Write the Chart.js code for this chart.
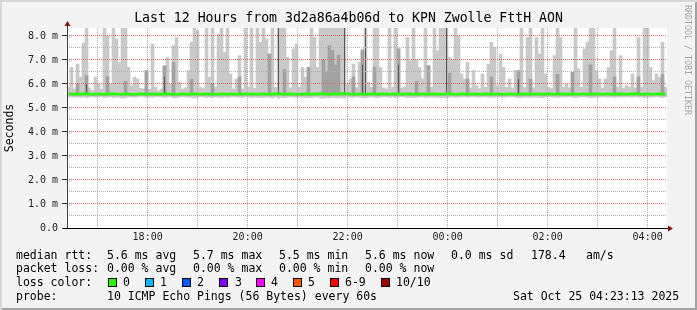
<!DOCTYPE html>
<html lang="en">
<head>
<meta charset="UTF-8">
<title>Last 12 Hours from 3d2a86a4b06d to KPN Zwolle FttH AON</title>
<script src="https://cdn.jsdelivr.net/npm/chart.js"></script>
<style>
  html, body { margin: 0; padding: 0; background: #f3f3f3; }
  #graph { position: relative; width: 697px; height: 310px; overflow: hidden; background: #f3f3f3;
    box-shadow: inset 2px 2px 0 #d8d8d8, inset -2px -2px 0 #a2a2a2;
    font-family: 'DejaVu Sans Mono', monospace; color: #000; }
  #graph canvas { position: absolute; left: 0; top: 0; }
  .title { position: absolute; left: 0; top: 10px; width: 697px; text-align: center; font-size: 13.2px; line-height: 16px; white-space: pre; }
  .brand { position: absolute; left: 683px; top: 5px; writing-mode: vertical-rl; font-size: 8.3px; line-height: 9px; color: #a8a8a8; white-space: pre; }
  .txt { position: absolute; font-size: 11.5px; line-height: 14px; white-space: pre; }
  .sq { position: absolute; top: 278px; width: 9px; height: 9px; box-sizing: border-box; border: 1px solid #000; }
</style>
</head>
<body>
<div id="graph">
  <canvas id="smoke" width="697" height="310"></canvas>
  <div class="title">Last 12 Hours from 3d2a86a4b06d to KPN Zwolle FttH AON</div>
  <div class="brand">RRDTOOL / TOBI OETIKER</div>

  <!-- legend -->
  <div class="txt" style="left:16px;top:248px">median rtt:</div>
  <div class="txt" style="left:107px;top:248px">5.6 ms avg</div>
  <div class="txt" style="left:193px;top:248px">5.7 ms max</div>
  <div class="txt" style="left:279px;top:248px">5.5 ms min</div>
  <div class="txt" style="left:365px;top:248px">5.6 ms now</div>
  <div class="txt" style="left:451px;top:248px">0.0 ms sd</div>
  <div class="txt" style="left:531px;top:248px">178.4</div>
  <div class="txt" style="left:586px;top:248px">am/s</div>

  <div class="txt" style="left:16px;top:261px">packet loss:</div>
  <div class="txt" style="left:107px;top:261px">0.00 % avg</div>
  <div class="txt" style="left:193px;top:261px">0.00 % max</div>
  <div class="txt" style="left:279px;top:261px">0.00 % min</div>
  <div class="txt" style="left:365px;top:261px">0.00 % now</div>

  <div class="txt" style="left:16px;top:275px">loss color:</div>
  <div class="sq" style="left:108px;background:#26ff00"></div><div class="txt" style="left:123px;top:275px">0</div>
  <div class="sq" style="left:145px;background:#00b8ff"></div><div class="txt" style="left:160px;top:275px">1</div>
  <div class="sq" style="left:182px;background:#0059ff"></div><div class="txt" style="left:197px;top:275px">2</div>
  <div class="sq" style="left:219px;background:#7e00ff"></div><div class="txt" style="left:235px;top:275px">3</div>
  <div class="sq" style="left:256px;background:#ff00ff"></div><div class="txt" style="left:271px;top:275px">4</div>
  <div class="sq" style="left:293px;background:#ff5500"></div><div class="txt" style="left:308px;top:275px">5</div>
  <div class="sq" style="left:330px;background:#ff0000"></div><div class="txt" style="left:345px;top:275px">6-9</div>
  <div class="sq" style="left:381px;background:#a10000"></div><div class="txt" style="left:396px;top:275px">10/10</div>

  <div class="txt" style="left:16px;top:289px">probe:</div>
  <div class="txt" style="left:107px;top:289px">10 ICMP Echo Pings (56 Bytes) every 60s</div>
  <div class="txt" style="left:513px;top:289px">Sat Oct 25 04:23:13 2025</div>
</div>

<script>
  // time window in hours: 16:23:13 -> 04:23:13 next day
  const tStart = 16 + 23 / 60 + 13 / 3600;
  const tEnd = tStart + 12;
  const yTop = 8.333; // upper limit in ms

  // smoke top (slowest ping) per 3.6 min slot, ms
  const smokeHigh = [
    5.86, 6.69, 5.79, 6.83, 6.28, 7.71, 8.40, 5.84, 5.72, 6.28,
    6.00, 5.79, 8.40, 8.01, 6.00, 8.40, 7.88, 6.90, 8.40, 8.40,
    6.69, 5.93, 6.28, 6.21, 5.82, 5.79, 6.56, 5.78, 7.67, 5.86,
    5.72, 5.79, 6.76, 7.11, 6.00, 7.60, 7.94, 6.07, 5.79, 5.84,
    6.56, 7.74, 8.40, 8.22, 5.86, 5.81, 8.40, 6.28, 8.40, 5.86,
    8.08, 8.40, 7.32, 8.40, 6.42, 5.79, 6.21, 7.18, 5.79, 8.40,
    5.86, 8.40, 5.83, 8.40, 7.74, 8.40, 7.88, 7.25, 8.40, 5.86,
    8.40, 8.40, 8.40, 7.11, 5.84, 7.46, 7.67, 5.86, 6.69, 6.28,
    6.69, 8.40, 7.94, 6.69, 8.40, 8.40, 8.40, 8.40, 8.40, 8.40,
    8.40, 8.40, 8.40, 6.00, 6.21, 6.83, 5.86, 6.90, 7.46, 8.40,
    6.07, 5.86, 8.40, 8.40, 6.69, 5.84, 5.79, 8.40, 5.86, 8.40,
    7.46, 5.82, 5.86, 7.94, 6.97, 8.40, 7.04, 6.69, 6.21, 8.40,
    6.76, 5.86, 8.40, 7.39, 8.40, 8.40, 8.40, 7.11, 7.04, 8.40,
    8.01, 6.42, 6.21, 6.90, 5.84, 6.56, 5.93, 5.81, 6.42, 5.86,
    6.83, 7.74, 7.53, 5.93, 7.25, 6.69, 5.86, 6.21, 5.83, 6.56,
    6.56, 8.40, 5.86, 7.94, 8.40, 5.84, 7.94, 7.25, 8.40, 6.42,
    5.86, 5.81, 7.18, 8.40, 7.94, 5.86, 6.00, 5.84, 6.49, 8.40,
    6.63, 5.86, 7.46, 7.74, 8.40, 8.40, 6.56, 6.21, 5.83, 6.21,
    6.69, 7.39, 8.40, 5.86, 7.18, 5.82, 5.93, 5.86, 6.42, 5.84,
    7.94, 5.86, 8.40, 8.40, 6.69, 6.14, 6.42, 6.28, 7.74, 5.86
  ];

  // smoke bottom (fastest ping), ms
  const smokeLow = [
    5.46, 5.47, 5.45, 5.46, 5.44, 5.47, 5.43, 5.46, 5.48, 5.45, 5.46, 5.47, 5.44, 5.45, 5.47, 5.43, 5.46, 5.45, 5.42, 5.44,
    5.46, 5.47, 5.45, 5.46, 5.48, 5.47, 5.44, 5.46, 5.45, 5.47, 5.48, 5.46, 5.44, 5.45, 5.47, 5.43, 5.44, 5.46, 5.47, 5.46,
    5.45, 5.44, 5.42, 5.45, 5.47, 5.46, 5.44, 5.46, 5.43, 5.47, 5.45, 5.43, 5.46, 5.44, 5.46, 5.47, 5.46, 5.45, 5.44, 5.47,
    5.46, 5.43, 5.46, 5.44, 5.45, 5.43, 5.46, 5.44, 5.42, 5.46, 5.41, 5.44, 5.43, 5.45, 5.47, 5.45, 5.44, 5.46, 5.45, 5.44,
    5.43, 5.44, 5.45, 5.46, 5.42, 5.41, 5.43, 5.42, 5.44, 5.43, 5.42, 5.44, 5.41, 5.46, 5.45, 5.44, 5.47, 5.45, 5.43, 5.42,
    5.45, 5.47, 5.44, 5.43, 5.45, 5.46, 5.47, 5.44, 5.46, 5.43, 5.45, 5.47, 5.46, 5.44, 5.45, 5.43, 5.45, 5.46, 5.47, 5.44,
    5.45, 5.46, 5.44, 5.45, 5.43, 5.44, 5.42, 5.45, 5.46, 5.44, 5.45, 5.46, 5.47, 5.45, 5.46, 5.47, 5.46, 5.45, 5.46, 5.47,
    5.45, 5.44, 5.45, 5.46, 5.45, 5.44, 5.47, 5.46, 5.47, 5.45, 5.44, 5.43, 5.46, 5.45, 5.44, 5.46, 5.45, 5.44, 5.43, 5.45,
    5.47, 5.46, 5.45, 5.44, 5.45, 5.47, 5.46, 5.47, 5.45, 5.44, 5.45, 5.47, 5.46, 5.45, 5.43, 5.44, 5.45, 5.46, 5.47, 5.46,
    5.45, 5.46, 5.44, 5.47, 5.45, 5.46, 5.47, 5.46, 5.45, 5.47, 5.45, 5.46, 5.43, 5.44, 5.45, 5.46, 5.47, 5.45, 5.44, 5.46
  ];

  // median rtt, ms
  const medianRtt = [
    5.57, 5.58, 5.57, 5.56, 5.57, 5.58, 5.59, 5.57, 5.56, 5.57, 5.58, 5.57, 5.56, 5.57, 5.58, 5.59, 5.57, 5.56, 5.57, 5.58,
    5.57, 5.56, 5.55, 5.57, 5.58, 5.57, 5.56, 5.57, 5.58, 5.57, 5.56, 5.57, 5.58, 5.59, 5.57, 5.56, 5.55, 5.57, 5.58, 5.57,
    5.56, 5.57, 5.58, 5.57, 5.56, 5.57, 5.58, 5.57, 5.56, 5.55, 5.57, 5.58, 5.57, 5.56, 5.57, 5.58, 5.57, 5.56, 5.57, 5.58,
    5.57, 5.58, 5.57, 5.56, 5.57, 5.58, 5.57, 5.56, 5.57, 5.58, 5.59, 5.57, 5.56, 5.57, 5.58, 5.57, 5.56, 5.55, 5.57, 5.58,
    5.57, 5.56, 5.57, 5.58, 5.59, 5.58, 5.57, 5.56, 5.57, 5.58, 5.57, 5.59, 5.60, 5.58, 5.57, 5.56, 5.57, 5.58, 5.57, 5.56,
    5.57, 5.58, 5.57, 5.56, 5.57, 5.58, 5.57, 5.56, 5.57, 5.58, 5.57, 5.56, 5.57, 5.58, 5.57, 5.56, 5.55, 5.57, 5.58, 5.57,
    5.56, 5.57, 5.58, 5.57, 5.56, 5.57, 5.58, 5.59, 5.57, 5.56, 5.57, 5.58, 5.57, 5.56, 5.57, 5.58, 5.57, 5.56, 5.57, 5.58,
    5.57, 5.56, 5.57, 5.58, 5.57, 5.56, 5.57, 5.58, 5.57, 5.56, 5.55, 5.57, 5.58, 5.57, 5.56, 5.57, 5.58, 5.57, 5.56, 5.57,
    5.58, 5.57, 5.56, 5.57, 5.58, 5.57, 5.56, 5.57, 5.58, 5.57, 5.56, 5.57, 5.58, 5.57, 5.56, 5.57, 5.58, 5.57, 5.56, 5.57,
    5.58, 5.57, 5.56, 5.57, 5.58, 5.57, 5.56, 5.57, 5.58, 5.59, 5.57, 5.56, 5.57, 5.58, 5.57, 5.56, 5.57, 5.58, 5.57, 5.57
  ];

  // inner smoke layers: [slot, top ms]
  const midSmoke = [
    [3, 6.00], [6, 6.35], [13, 6.30], [19, 6.10], [26, 6.56], [32, 6.76], [35, 6.90], [41, 6.20], [48, 6.00],
    [57, 6.30], [67, 7.25], [72, 6.60], [80, 6.69], [85, 7.00], [86, 6.50], [87, 7.60], [88, 7.40], [89, 6.80],
    [90, 7.20], [95, 6.30], [98, 7.39], [102, 6.70], [110, 7.46], [116, 6.10], [120, 6.76], [127, 6.45],
    [133, 6.20], [141, 6.30], [150, 6.56], [154, 6.20], [163, 6.40], [168, 6.49], [174, 6.80], [182, 6.30],
    [190, 6.30], [198, 6.40]
  ];
  const darkSmoke = [
    [6, 6.00], [32, 6.30], [70, 8.40], [92, 8.40], [98, 6.80], [99, 8.40], [110, 6.80], [126, 8.40], [150, 6.20]
  ];

  const slots = smokeHigh.map((_, i) => i);
  const outer = smokeHigh.map((h, i) => [smokeLow[i], h]);
  function sparse(list) {
    const arr = slots.map(() => null);
    list.forEach(([i, top]) => { arr[i] = [medianRtt[i], top]; });
    return arr;
  }

  const majorRed = 'rgb(255, 96, 96)';
  const minorGray = 'rgb(176, 176, 176)';
  // ticks every `step`, shifted by `phase`, inside the scale range
  const stepTicks = (step, phase) => s => {
    const t = [];
    for (let v = Math.ceil((s.min - phase) / step - 1e-9) * step + phase; v <= s.max + 1e-9; v += step) t.push({ value: v });
    s.ticks = t;
  };
  const mono = { family: "'DejaVu Sans Mono', monospace", size: 10 };
  // grid-only helper scale (no labels, no room taken)
  const gridOnly = (pos, extra) => Object.assign({
    position: pos,
    afterFit: s => { if (s.isHorizontal()) s.height = 0; else s.width = 0; },
    ticks: { display: false },
    grid: { z: 1, drawTicks: false, lineWidth: 1, color: minorGray },
    border: { display: false, dash: [1, 1] }
  }, extra);

  // white plot area + rrdtool style axis arrows
  const rrdFrame = {
    id: 'rrdFrame',
    beforeDraw(chart) {
      const { ctx, chartArea: a } = chart;
      ctx.save();
      ctx.fillStyle = '#fff';
      ctx.fillRect(a.left, a.top, a.right - a.left, a.bottom - a.top);
      ctx.restore();
    },
    afterDraw(chart) {
      const { ctx, chartArea: a } = chart;
      ctx.save();
      ctx.lineWidth = 1;
      ctx.strokeStyle = '#404040';
      ctx.beginPath(); ctx.moveTo(a.left + 0.5, a.bottom); ctx.lineTo(a.left + 0.5, a.top - 5); ctx.stroke();
      ctx.strokeStyle = '#000';
      ctx.beginPath(); ctx.moveTo(a.left - 4, a.bottom + 0.5); ctx.lineTo(a.right + 2, a.bottom + 0.5); ctx.stroke();
      ctx.fillStyle = '#8b1010';
      ctx.beginPath(); ctx.moveTo(a.left - 2.5, a.top - 2); ctx.lineTo(a.left + 3.5, a.top - 2); ctx.lineTo(a.left + 0.5, a.top - 7); ctx.closePath(); ctx.fill();
      ctx.beginPath(); ctx.moveTo(a.right + 1, a.bottom - 2.5); ctx.lineTo(a.right + 1, a.bottom + 3.5); ctx.lineTo(a.right + 6, a.bottom + 0.5); ctx.closePath(); ctx.fill();
      ctx.restore();
    }
  };

  const ctx = document.getElementById('smoke').getContext('2d');
  new Chart(ctx, {
    type: 'bar',
    data: {
      labels: slots,
      datasets: [
        { type: 'line', data: medianRtt, borderColor: '#26ff00', borderWidth: 3, pointRadius: 0, tension: 0, order: 0, xAxisID: 'x', yAxisID: 'y' },
        { data: sparse(darkSmoke), backgroundColor: '#575757', barPercentage: 0.34, categoryPercentage: 1, grouped: false, order: 1, xAxisID: 'x', yAxisID: 'y' },
        { data: sparse(midSmoke), backgroundColor: '#a2a2a2', barPercentage: 1, categoryPercentage: 1, grouped: false, order: 2, xAxisID: 'x', yAxisID: 'y' },
        { data: outer, backgroundColor: '#c9c9c9', barPercentage: 1, categoryPercentage: 1, grouped: false, order: 3, xAxisID: 'x', yAxisID: 'y' }
      ]
    },
    options: {
      responsive: false,
      animation: false,
      devicePixelRatio: 1,
      layout: { padding: { left: 0, top: 28, right: 30, bottom: 62 } },
      plugins: { legend: { display: false }, tooltip: { enabled: false } },
      scales: {
        x: { display: false, offset: true },
        // hour lines (red) + labels every 2 hours
        xt: {
          type: 'linear', position: 'bottom', min: tStart, max: tEnd, offset: false,
          afterBuildTicks: stepTicks(1, 0),
          afterFit: s => { s.height = 20; },
          ticks: {
            autoSkip: false, maxRotation: 0, padding: 3, font: mono, color: '#222',
            callback: v => (Math.round(v) % 2 === 0) ? String(Math.round(v) % 24).padStart(2, '0') + ':00' : ''
          },
          grid: { z: 1, offset: false, drawTicks: false, lineWidth: 1, color: majorRed },
          border: { display: false, dash: [1, 1] }
        },
        // half hour lines (gray)
        xm: gridOnly('bottom', { type: 'linear', min: tStart, max: tEnd, offset: false, afterBuildTicks: stepTicks(1, 0.5) }),
        y: {
          min: 0, max: yTop,
          afterBuildTicks: stepTicks(1, 0),
          afterFit: s => { s.width = 67; },
          ticks: {
            padding: 4, font: mono, color: '#222',
            callback: v => v === 0 ? '0.0' : v.toFixed(1) + ' m'
          },
          grid: { z: 1, lineWidth: 1, tickLength: 5, color: majorRed, tickColor: '#333' },
          border: { display: false, dash: [1, 1] },
          title: { display: true, text: 'Seconds', color: '#000', font: { family: "'DejaVu Sans Mono', monospace", size: 11.5 }, padding: { top: 3, bottom: 0 } }
        },
        // half ms lines (gray)
        ym: gridOnly('left', { type: 'linear', min: 0, max: yTop, afterBuildTicks: stepTicks(1, 0.5) })
      }
    },
    plugins: [rrdFrame]
  });
</script>
</body>
</html>
